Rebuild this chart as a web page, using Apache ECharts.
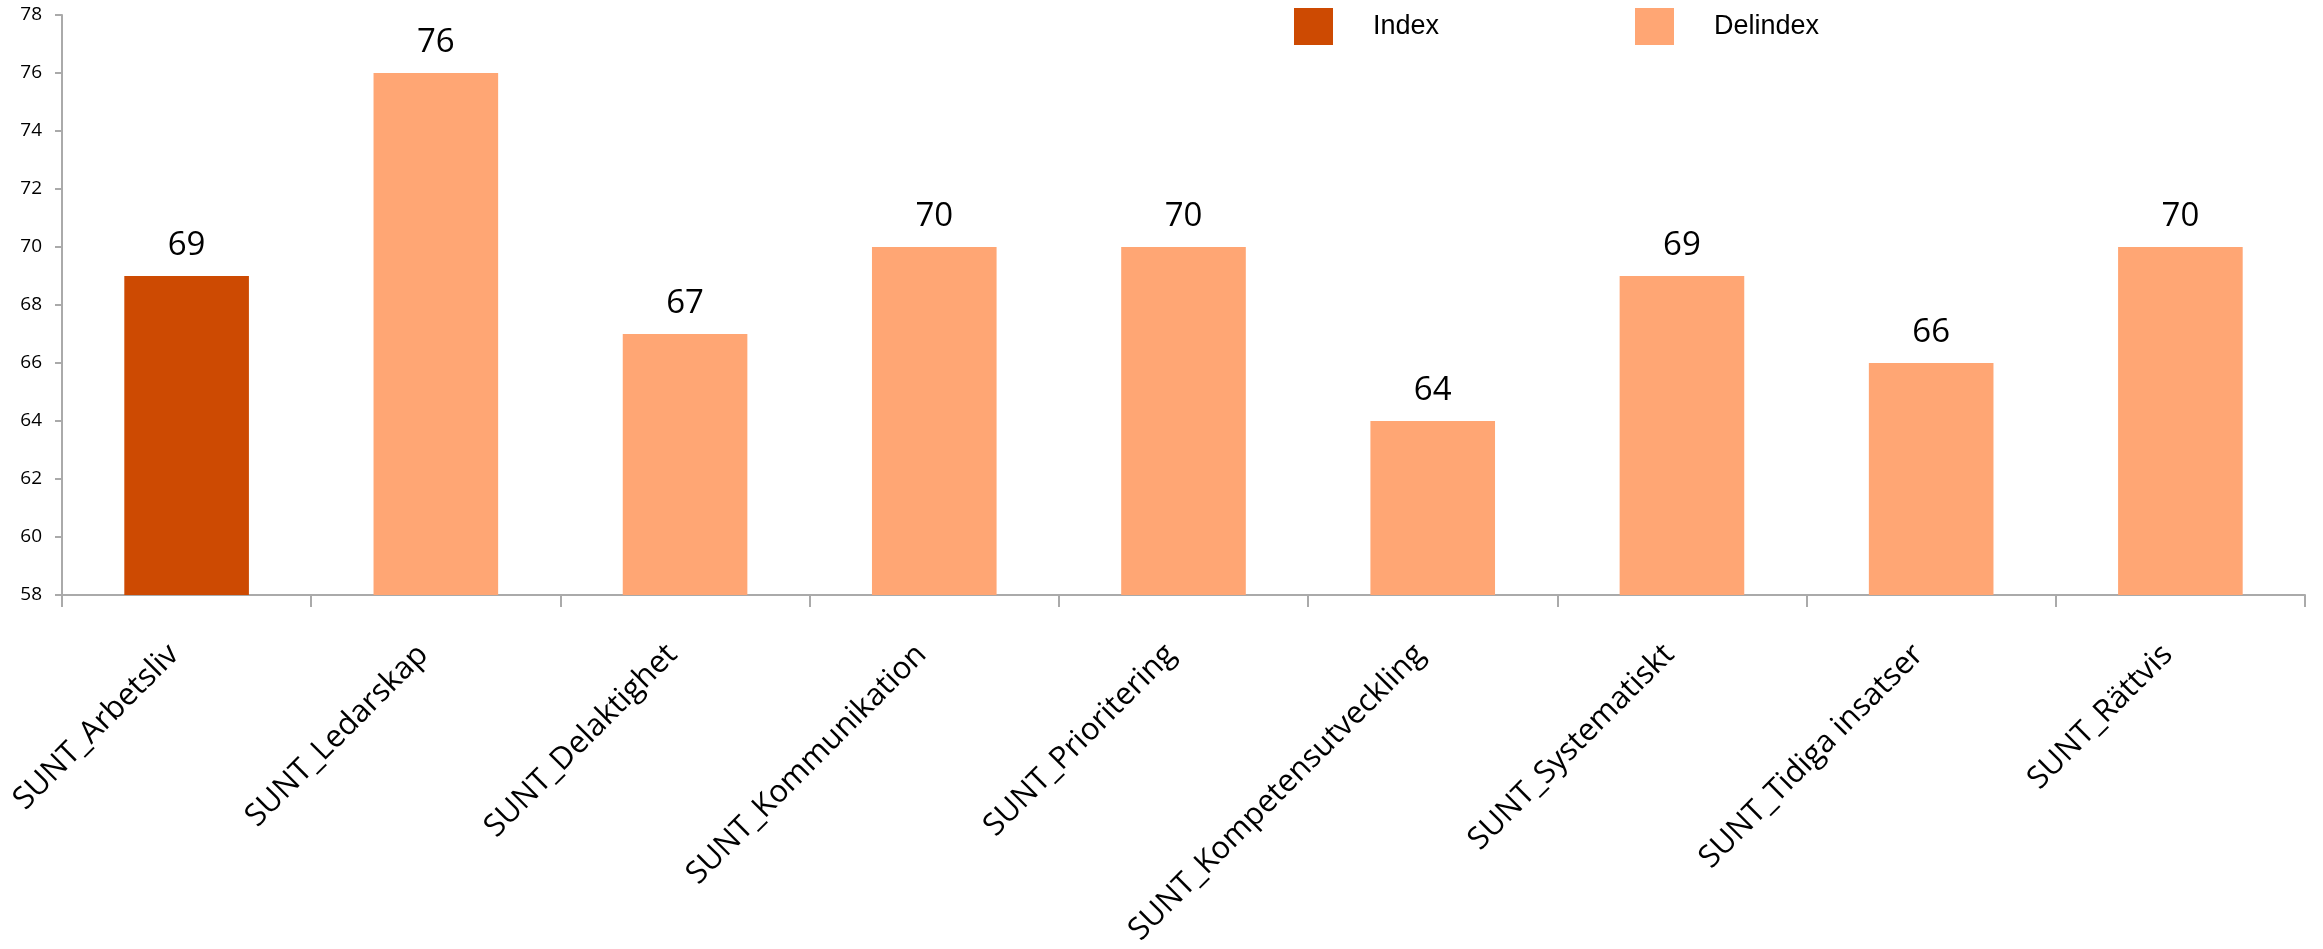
<!DOCTYPE html>
<html>
<head>
<meta charset="utf-8">
<script src="https://cdn.jsdelivr.net/npm/echarts@6/dist/echarts.min.js"></script>
<style>
  html, body { margin: 0; padding: 0; background: #fff; }
  #chart { width: 2323px; height: 949px; }
</style>
</head>
<body>
<div id="chart"></div>
<script>
// Index categories and their scores
const categories = [
  'SUNT_Arbetsliv', 'SUNT_Ledarskap', 'SUNT_Delaktighet', 'SUNT_Kommunikation',
  'SUNT_Prioritering', 'SUNT_Kompetensutveckling', 'SUNT_Systematiskt',
  'SUNT_Tidiga insatser', 'SUNT_Rättvis'
];
const indexValues    = [69, null, null, null, null, null, null, null, null];
const delindexValues = [null, 76, 67, 70, 70, 64, 69, 66, 70];
const yMin = 58, yMax = 78, yStep = 2;

const INDEX_COLOR = '#CD4A02';
const DELINDEX_COLOR = '#FFA674';
const AXIS_COLOR = '#AAAAAA';
const FONT = '"Open Sans", "Noto Sans", sans-serif';

const chart = echarts.init(document.getElementById('chart'), null, { renderer: 'canvas' });

const valueLabel = {
  show: true,
  position: 'top',
  distance: 14,
  fontSize: 33,
  fontFamily: FONT,
  color: '#000'
};

const legendCommon = {
  top: 8,
  padding: 0,
  itemWidth: 39,
  itemHeight: 37,
  icon: 'rect',
  textStyle: {
    fontFamily: '"Liberation Sans", Arial, sans-serif',
    fontSize: 27,
    color: '#000',
    padding: [0, 0, 0, 35]
  },
  selectedMode: false
};

chart.setOption({
  animation: false,
  backgroundColor: '#fff',
  legend: [
    Object.assign({}, legendCommon, { left: 1294, data: ['Index'] }),
    Object.assign({}, legendCommon, { left: 1635, data: ['Delindex'] })
  ],
  grid: { left: 62, right: 18, top: 15, bottom: 354, containLabel: false },
  xAxis: {
    type: 'category',
    data: categories,
    axisLine: { lineStyle: { color: AXIS_COLOR, width: 2 } },
    axisTick: { show: true, alignWithLabel: false, length: 12, lineStyle: { color: AXIS_COLOR, width: 2 } },
    axisLabel: {
      interval: 0,
      rotate: 45,
      margin: 42,
      fontSize: 31,
      fontFamily: FONT,
      color: '#000',
      padding: [0, 18, 0, 0]
    },
    splitLine: { show: false }
  },
  yAxis: {
    type: 'value',
    min: yMin,
    max: yMax,
    interval: yStep,
    axisLine: { show: true, lineStyle: { color: AXIS_COLOR, width: 2 } },
    axisTick: { show: true, length: 7, lineStyle: { color: AXIS_COLOR, width: 2 } },
    axisLabel: { fontSize: 19, fontFamily: FONT, color: '#000', margin: 20 },
    splitLine: { show: false }
  },
  series: [
    {
      name: 'Index',
      type: 'bar',
      data: indexValues,
      barWidth: '50%',
      barGap: '-100%',
      itemStyle: { color: INDEX_COLOR },
      label: valueLabel
    },
    {
      name: 'Delindex',
      type: 'bar',
      data: delindexValues,
      barWidth: '50%',
      barGap: '-100%',
      itemStyle: { color: DELINDEX_COLOR },
      label: valueLabel
    }
  ]
});
</script>
</body>
</html>
